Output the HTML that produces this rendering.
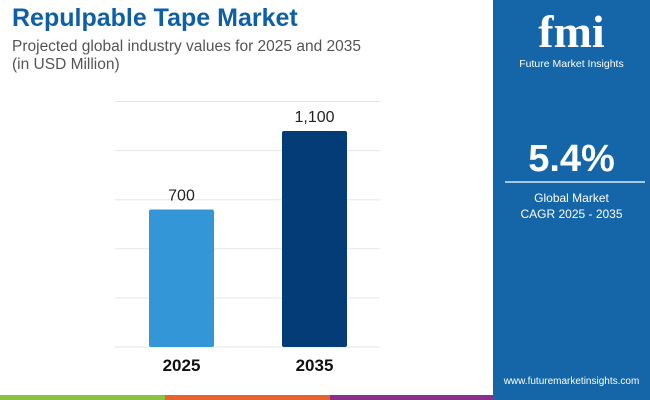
<!DOCTYPE html>
<html><head><meta charset="utf-8"><style>
body{margin:0;width:650px;height:400px;overflow:hidden;background:#fff;font-family:"Liberation Sans",sans-serif;position:relative}
.t{position:absolute;margin:0}
</style></head><body>
<div class="t" style="left:12px;top:4px;font-size:25px;font-weight:bold;color:#0e5fa6">Repulpable Tape Market</div>
<div class="t" style="left:12px;top:38px;font-size:15.5px;color:#555;line-height:18px">Projected global industry values for 2025 and 2035<br>(in USD Million)</div>
<svg id="chart" width="493" height="400" style="position:absolute;left:0;top:0"></svg>
<div style="position:absolute;left:493px;top:0;width:157px;height:400px;background:#1466a9">
 <div style="position:absolute;left:0;width:157px;top:8px;text-align:center;color:#fff;font-size:46px;font-weight:bold;font-family:'Liberation Serif',serif;line-height:48px">fmi</div>
 <div style="position:absolute;left:0;width:157px;top:58px;text-align:center;color:#fff;font-size:10.5px">Future Market Insights</div>
 <div style="position:absolute;left:0;width:157px;top:138px;text-align:center;color:#fff;font-size:38px;font-weight:bold">5.4%</div>
 <div style="position:absolute;left:12px;width:140px;top:181px;height:2px;background:#a9c8e4"></div>
 <div style="position:absolute;left:0;width:157px;top:190px;text-align:center;color:#fff;font-size:12px;line-height:16px">Global Market<br>CAGR 2025 - 2035</div>
 <div style="position:absolute;left:0;width:157px;top:376px;text-align:center;color:#fff;font-size:10px">www.futuremarketinsights.com</div>
</div>
<div style="position:absolute;left:0;top:395px;width:165px;height:5px;background:#8cc23f"></div>
<div style="position:absolute;left:165px;top:395px;width:165px;height:5px;background:#e8622c"></div>
<div style="position:absolute;left:330px;top:395px;width:163px;height:5px;background:#8a2f8a"></div>
<script>
const categories=["2025","2035"];
const values=[700,1100];
const labels=["700","1,100"];
const gridTicks=[0,250,500,750,1000,1250];
const colors=["#3396d6","#033c77"];
const svg=document.getElementById('chart');
const NS="http://www.w3.org/2000/svg";
const y0=347,ppu=0.1964;
const y=v=>y0-v*ppu;
const xc=i=>181.5+i*133;
const bw=65;
gridTicks.forEach(t=>{const l=document.createElementNS(NS,'line');


l.setAttribute('x1',115);l.setAttribute('x2',380);l.setAttribute('y1',y(t));l.setAttribute('y2',y(t));
l.setAttribute('stroke','#e6e6e6');l.setAttribute('stroke-width','1');svg.appendChild(l);});
values.forEach((v,i)=>{
const r=document.createElementNS(NS,'rect');


r.setAttribute('x',xc(i)-bw/2);r.setAttribute('y',y(v));r.setAttribute('width',bw);r.setAttribute('height',y0-y(v));
r.setAttribute('rx',2);r.setAttribute('fill',colors[i]);svg.appendChild(r);
const t=document.createElementNS(NS,'text');


t.setAttribute('x',xc(i));t.setAttribute('y',y(v)-9);t.setAttribute('text-anchor','middle');
t.setAttribute('font-size','16');t.setAttribute('fill','#222');t.textContent=labels[i];svg.appendChild(t);
const c=document.createElementNS(NS,'text');


c.setAttribute('x',xc(i));c.setAttribute('y',371);c.setAttribute('text-anchor','middle');
c.setAttribute('font-size','17');c.setAttribute('font-weight','bold');c.setAttribute('fill','#111');c.textContent=categories[i];svg.appendChild(c);
});
</script>
</body></html>
